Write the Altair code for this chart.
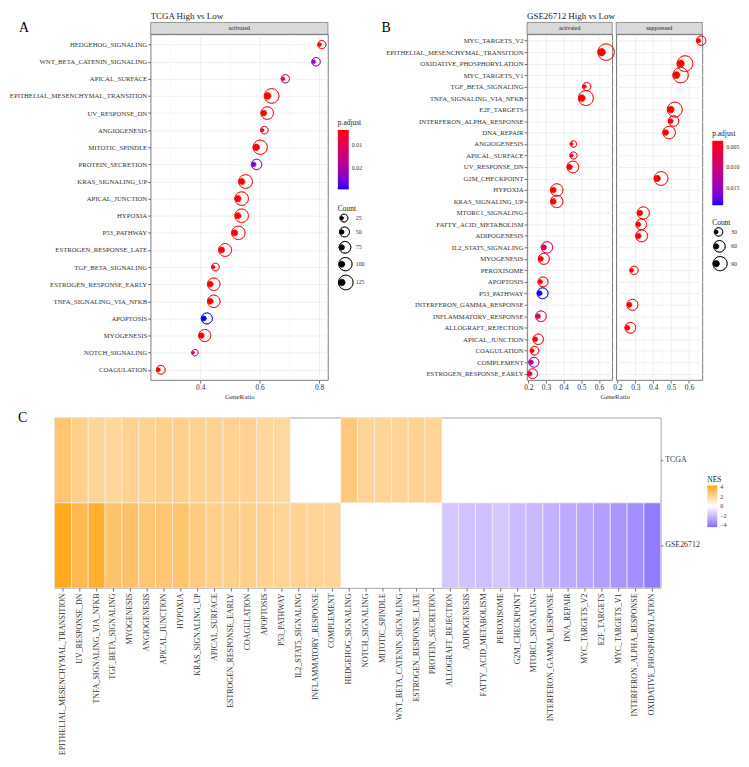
import altair as alt
import pandas as pd

FONT = "Liberation Serif"
TXT = "#333333"

# ---------------- Panel A : TCGA High vs Low ----------------
a_terms = ["HEDGEHOG_SIGNALING", "WNT_BETA_CATENIN_SIGNALING", "APICAL_SURFACE",
           "EPITHELIAL_MESENCHYMAL_TRANSITION", "UV_RESPONSE_DN", "ANGIOGENESIS",
           "MITOTIC_SPINDLE", "PROTEIN_SECRETION", "KRAS_SIGNALING_UP", "APICAL_JUNCTION",
           "HYPOXIA", "P53_PATHWAY", "ESTROGEN_RESPONSE_LATE", "TGF_BETA_SIGNALING",
           "ESTROGEN_RESPONSE_EARLY", "TNFA_SIGNALING_VIA_NFKB", "APOPTOSIS", "MYOGENESIS",
           "NOTCH_SIGNALING", "COAGULATION"]
a_ratio = [0.802, 0.782, 0.679, 0.627, 0.614, 0.609, 0.589, 0.580, 0.540, 0.527,
           0.527, 0.516, 0.472, 0.444, 0.434, 0.434, 0.412, 0.404, 0.376, 0.259]
a_count = [29, 33, 30, 125, 88, 22, 117, 56, 108, 105, 105, 103, 94, 24, 87, 87, 66, 81, 12, 36]
a_padj = [0.0045, 0.021, 0.012, 0.0037, 0.0037, 0.006, 0.0037, 0.024, 0.0037, 0.0037,
          0.0037, 0.0037, 0.0037, 0.005, 0.0037, 0.0037, 0.029, 0.0037, 0.013, 0.0037]

# ---------------- Panel B : GSE26712 High vs Low ----------------
b_terms = ["MYC_TARGETS_V2", "EPITHELIAL_MESENCHYMAL_TRANSITION", "OXIDATIVE_PHOSPHORYLATION",
           "MYC_TARGETS_V1", "TGF_BETA_SIGNALING", "TNFA_SIGNALING_VIA_NFKB", "E2F_TARGETS",
           "INTERFERON_ALPHA_RESPONSE", "DNA_REPAIR", "ANGIOGENESIS", "APICAL_SURFACE",
           "UV_RESPONSE_DN", "G2M_CHECKPOINT", "HYPOXIA", "KRAS_SIGNALING_UP", "MTORC1_SIGNALING",
           "FATTY_ACID_METABOLISM", "ADIPOGENESIS", "IL2_STAT5_SIGNALING", "MYOGENESIS",
           "PEROXISOME", "APOPTOSIS", "P53_PATHWAY", "INTERFERON_GAMMA_RESPONSE",
           "INFLAMMATORY_RESPONSE", "ALLOGRAFT_REJECTION", "APICAL_JUNCTION", "COAGULATION",
           "COMPLEMENT", "ESTROGEN_RESPONSE_EARLY"]
b_group = ["suppressed", "activated", "suppressed", "suppressed", "activated", "activated",
           "suppressed", "suppressed", "suppressed", "activated", "activated", "activated",
           "suppressed", "activated", "activated", "suppressed", "suppressed", "suppressed",
           "activated", "activated", "suppressed", "activated", "activated", "suppressed",
           "activated", "suppressed", "activated", "activated", "activated", "activated"]
b_ratio = [0.654, 0.615, 0.554, 0.530, 0.518, 0.503, 0.498, 0.498, 0.470, 0.445, 0.445,
           0.434, 0.423, 0.342, 0.342, 0.326, 0.317, 0.317, 0.288, 0.271, 0.280, 0.268,
           0.264, 0.267, 0.255, 0.256, 0.240, 0.222, 0.216, 0.209]
b_count = [38, 123, 111, 106, 28, 100, 100, 48, 70, 16, 20, 62, 85, 68, 68, 65, 50, 63,
           58, 54, 29, 43, 53, 53, 51, 51, 48, 31, 43, 42]
b_padj = [0.0036, 0.0036, 0.0036, 0.0036, 0.0045, 0.0036, 0.0036, 0.0036, 0.0036, 0.004,
          0.0045, 0.0036, 0.0036, 0.0036, 0.0036, 0.0036, 0.0036, 0.0036, 0.0085, 0.0036,
          0.0042, 0.0036, 0.0193, 0.0036, 0.0075, 0.0036, 0.004, 0.0036, 0.014, 0.0065]

# ---------------- Panel C : NES heatmap ----------------
heat_terms = ["EPITHELIAL_MESENCHYMAL_TRANSITION", "UV_RESPONSE_DN", "TNFA_SIGNALING_VIA_NFKB",
              "TGF_BETA_SIGNALING", "MYOGENESIS", "ANGIOGENESIS", "APICAL_JUNCTION", "HYPOXIA",
              "KRAS_SIGNALING_UP", "APICAL_SURFACE", "ESTROGEN_RESPONSE_EARLY", "COAGULATION",
              "APOPTOSIS", "P53_PATHWAY", "IL2_STAT5_SIGNALING", "INFLAMMATORY_RESPONSE",
              "COMPLEMENT", "HEDGEHOG_SIGNALING", "NOTCH_SIGNALING", "MITOTIC_SPINDLE",
              "WNT_BETA_CATENIN_SIGNALING", "ESTROGEN_RESPONSE_LATE", "PROTEIN_SECRETION",
              "ALLOGRAFT_REJECTION", "ADIPOGENESIS", "FATTY_ACID_METABOLISM", "PEROXISOME",
              "G2M_CHECKPOINT", "MTORC1_SIGNALING", "INTERFERON_GAMMA_RESPONSE", "DNA_REPAIR",
              "MYC_TARGETS_V2", "E2F_TARGETS", "MYC_TARGETS_V1", "INTERFERON_ALPHA_RESPONSE",
              "OXIDATIVE_PHOSPHORYLATION"]
tcga_nes = [2.8, 2.3, 2.1, 2.0, 2.2, 2.2, 2.3, 2.3, 2.2, 2.2, 2.2, 2.2, 2.0, 1.9,
            None, None, None, 2.6, 2.1, 2.1, 2.1, 2.2, 2.1,
            None, None, None, None, None, None, None, None, None, None, None, None, None]
gse_nes = [4.2, 3.5, 4.0, 3.0, 3.0, 2.8, 2.8, 2.9, 2.5, 2.4, 2.3, 2.3, 2.2, 2.1, 2.2, 2.1, 2.1,
           None, None, None, None, None, None,
           -1.7, -1.8, -1.9, -1.7, -2.0, -2.1, -2.3, -2.5, -2.7, -2.9, -3.2, -3.4, -4.0]
datasets = ["TCGA", "GSE26712"]

a_ticks = [0.4, 0.6, 0.8]
a_minor = [0.3, 0.5, 0.7]
b_ticks = [0.2, 0.3, 0.4, 0.5, 0.6]
b_minor = [0.25, 0.35, 0.45, 0.55, 0.65]
nes_ticks = [-4, -2, 0, 2, 4]

# glyph: filled dot plus a ring drawn slightly to its right (ring path retraced so it is not filled)
RING_DOT = ("M-1,0A2.2,2.2,0,1,1,3.4,0A2.2,2.2,0,1,1,-1,0"
            "A2.2,2.2,0,1,0,3.4,0A2.2,2.2,0,1,0,-1,0Z"
            "M1,0A1,1,0,1,1,-1,0A1,1,0,1,1,1,0Z")

df_a = pd.DataFrame({"Description": a_terms, "GeneRatio": a_ratio, "Count": a_count, "padj": a_padj})
df_b = pd.DataFrame({"Description": b_terms, "group": b_group, "GeneRatio": b_ratio,
                     "Count": b_count, "padj": b_padj})
for d in (df_a, df_b):
    d["negp"] = -d["padj"]
    d["negp_ring"] = -d["padj"]


def dot_panel(df, terms, strip, xdom, ticks, minor, w, h, cdom, sdom, srange,
              color_legend, size_legend, show_y, x_title=None, x_title_x=None,
              title=None, letter=None, y_pad=0.55):
    xs = alt.Scale(domain=xdom, nice=False, zero=False)
    ax_kw = dict(values=ticks, format=".1f", grid=True, gridColor="#EBEBEB", gridWidth=0.8,
                 domain=False, tickColor=TXT, tickSize=3, tickWidth=0.7, labelFontSize=7.5,
                 labelColor=TXT, labelPadding=1, titleFontSize=7, titleFontWeight="normal",
                 titleColor=TXT, titlePadding=1)
    if x_title is not None:
        if x_title_x is not None:
            ax_kw["titleX"] = x_title_x
        xaxis = alt.Axis(title=x_title, **ax_kw)
    else:
        xaxis = alt.Axis(title=None, **ax_kw)
    if show_y:
        yaxis = alt.Axis(title=None, grid=True, gridColor="#EBEBEB", gridWidth=0.8, domain=False,
                         tickColor=TXT, tickSize=3, tickWidth=0.7, labelFontSize=6.8,
                         labelColor=TXT, labelPadding=1, labelLimit=300)
    else:
        yaxis = alt.Axis(title=None, grid=True, gridColor="#EBEBEB", gridWidth=0.8,
                         domain=False, ticks=False, labels=False)
    cscale = alt.Scale(domain=[-cdom[1], -cdom[0]], range=["#0000FF", "#FF0000"], interpolate="lab")
    # stroke scale: same colours, domain nudged so its (hidden) legend is not merged with the fill one
    rscale = alt.Scale(domain=[-cdom[1] - 1e-7, -cdom[0]], range=["#0000FF", "#FF0000"],
                       interpolate="lab")
    minor_rules = alt.Chart(pd.DataFrame({"m": minor})).mark_rule(
        color="#F3F3F3", strokeWidth=0.5).encode(x=alt.X("m:Q", scale=xs, axis=xaxis))
    points = alt.Chart(df).mark_point(shape=RING_DOT, filled=True, opacity=1, strokeWidth=0.7).encode(
        x=alt.X("GeneRatio:Q", scale=xs, axis=xaxis),
        y=alt.Y("Description:N", sort=terms,
                scale=alt.Scale(domain=terms, type="point", padding=y_pad), axis=yaxis),
        color=alt.Color("negp:Q", scale=cscale, legend=color_legend),
        stroke=alt.Stroke("negp_ring:Q", scale=rscale, legend=None),
        size=alt.Size("Count:Q", scale=alt.Scale(domain=sdom, range=srange, zero=False),
                      legend=size_legend),
    )
    strip_df = pd.DataFrame({"s": [strip]})
    strip_rect = alt.Chart(strip_df).mark_rect(fill="#D9D9D9", stroke="#595959", strokeWidth=0.6).encode(
        x=alt.value(0), x2=alt.value(w), y=alt.value(-12), y2=alt.value(0))
    strip_text = alt.Chart(strip_df).mark_text(fontSize=6, color="#1A1A1A").encode(
        text="s:N", x=alt.value(w / 2), y=alt.value(-6))
    layers = [minor_rules, points, strip_rect, strip_text]
    if letter is not None:
        layers.append(alt.Chart(pd.DataFrame({"l": [letter[0]]})).mark_text(
            fontSize=14, align="left", baseline="middle", color="black").encode(
            text="l:N", x=alt.value(letter[1]), y=alt.value(letter[2])))
    ch = alt.layer(*layers).properties(
        width=w, height=h, view=alt.ViewBackground(stroke="#595959", strokeWidth=0.8))
    if title is not None:
        ch = ch.properties(title=alt.TitleParams(title, anchor="start", frame="group", fontSize=9,
                                                 fontWeight="normal", offset=0, color="#1A1A1A"))
    return ch


def padj_legend(x, y, length, values, fmt):
    return alt.Legend(title="p.adjust", type="gradient", orient="none", legendX=x, legendY=y,
                      direction="vertical", gradientLength=length, gradientThickness=11,
                      gradientStrokeWidth=0, values=values,
                      labelExpr="format(-datum.value, '" + fmt + "')",
                      titleFontSize=7.5, titleFontWeight="normal", titleColor="#1A1A1A",
                      titlePadding=3, labelFontSize=6, labelColor=TXT, labelOffset=3)


def count_legend(x, y, values, loff):
    return alt.Legend(title="Count", orient="none", legendX=x, legendY=y, values=values,
                      symbolType=RING_DOT, symbolFillColor="black", symbolStrokeColor="black",
                      symbolStrokeWidth=0.7, symbolOpacity=1, labelOffset=loff,
                      titleFontSize=7.5, titleFontWeight="normal", titleColor="#1A1A1A",
                      titlePadding=3, labelFontSize=6, labelColor=TXT, rowPadding=1)


H = 349
A = dot_panel(df_a, a_terms, "activated", [0.233, 0.83], a_ticks, a_minor, 179, H,
              [0.0037, 0.029], [12, 125], [9, 45],
              padj_legend(189, 86, 60, [-0.02, -0.01], ".2f"),
              count_legend(189, 172, [25, 50, 75, 100, 125], 10),
              True, x_title="GeneRatio", title="TCGA High vs Low", letter=("A", -133, -6), y_pad=0.6)

B_act = dot_panel(df_b[df_b["group"] == "activated"], b_terms, "activated", [0.193, 0.675], b_ticks,
                  b_minor, 86, H, [0.0036, 0.0193], [16, 123], [9, 57], None, None, True,
                  x_title="GeneRatio", x_title_x=88.5, title="GSE26712 High vs Low",
                  letter=("B", -147, -6))
B_sup = dot_panel(df_b[df_b["group"] == "suppressed"], b_terms, "suppressed", [0.193, 0.675], b_ticks,
                  b_minor, 87, H, [0.0036, 0.0193], [16, 123], [9, 57],
                  padj_legend(97, 97, 65, [-0.015, -0.01, -0.005], ".3f"),
                  count_legend(97, 186, [30, 60, 90], 11), False)

heat_rows = []
for t, v1, v2 in zip(heat_terms, tcga_nes, gse_nes):
    if v1 is not None:
        heat_rows.append({"term": t, "dataset": "TCGA", "NES": v1})
    if v2 is not None:
        heat_rows.append({"term": t, "dataset": "GSE26712", "NES": v2})
heat_df = pd.DataFrame(heat_rows)

heat_rect = alt.Chart(heat_df).mark_rect(stroke="#F4F1EC", strokeWidth=0.7).encode(
    x=alt.X("term:N", sort=heat_terms,
            scale=alt.Scale(domain=heat_terms, paddingInner=0, paddingOuter=0),
            axis=alt.Axis(title=None, labelAngle=270, labelFontSize=8, labelColor=TXT, labelLimit=400,
                          tickSize=3, tickColor=TXT, tickWidth=0.7, domain=False, labelPadding=2,
                          grid=False)),
    y=alt.Y("dataset:N", sort=datasets,
            scale=alt.Scale(domain=datasets, paddingInner=0, paddingOuter=0),
            axis=alt.Axis(orient="right", title=None, labelFontSize=8, labelColor=TXT, tickSize=2,
                          tickColor=TXT, tickWidth=0.7, domain=False, labelPadding=2, grid=False)),
    color=alt.Color("NES:Q",
                    scale=alt.Scale(domain=[-4.4, 0, 4.4], range=["#836FFF", "#FFFFFF", "#FFA500"],
                                    interpolate="lab"),
                    legend=alt.Legend(title="NES", type="gradient", orient="none", legendX=659,
                                      legendY=59, direction="vertical", gradientLength=42,
                                      gradientThickness=10, gradientStrokeWidth=0, values=nes_ticks,
                                      titleFontSize=7.5, titleFontWeight="normal",
                                      titleColor="#1A1A1A", titlePadding=2, labelFontSize=6,
                                      labelColor=TXT, labelOffset=3)),
)
c_df = pd.DataFrame({"l": ["C"]})
c_text = alt.Chart(c_df).mark_text(
    fontSize=14, align="left", baseline="middle", color="black").encode(
    text="l:N", x=alt.value(-37), y=alt.value(0))
heat = alt.layer(heat_rect, c_text).properties(
    width=612, height=172, view=alt.ViewBackground(stroke="#8C8C8C", strokeWidth=0.8))


def spacer(w):
    return alt.Chart(pd.DataFrame({"v": [0]})).mark_point(opacity=0, size=1).encode(
        x=alt.value(0), y=alt.value(0)).properties(
        width=w, height=1, view=alt.ViewBackground(stroke="transparent"))


RES = dict(color="independent", size="independent", stroke="independent",
           x="independent", y="independent")

row1 = alt.hconcat(spacer(93), A, spacer(193), B_act, B_sup, spacing=4,
                   bounds="flush").resolve_scale(**RES)

chart = alt.vconcat(row1, heat, spacing=10).resolve_scale(**RES).properties(
    padding=0, background="white").configure(font=FONT).configure_axis(
    labelFont=FONT, titleFont=FONT).configure_legend(labelFont=FONT, titleFont=FONT).configure_title(
    font=FONT)

chart.save("out.html", embed_options={"renderer": "svg", "actions": False})
